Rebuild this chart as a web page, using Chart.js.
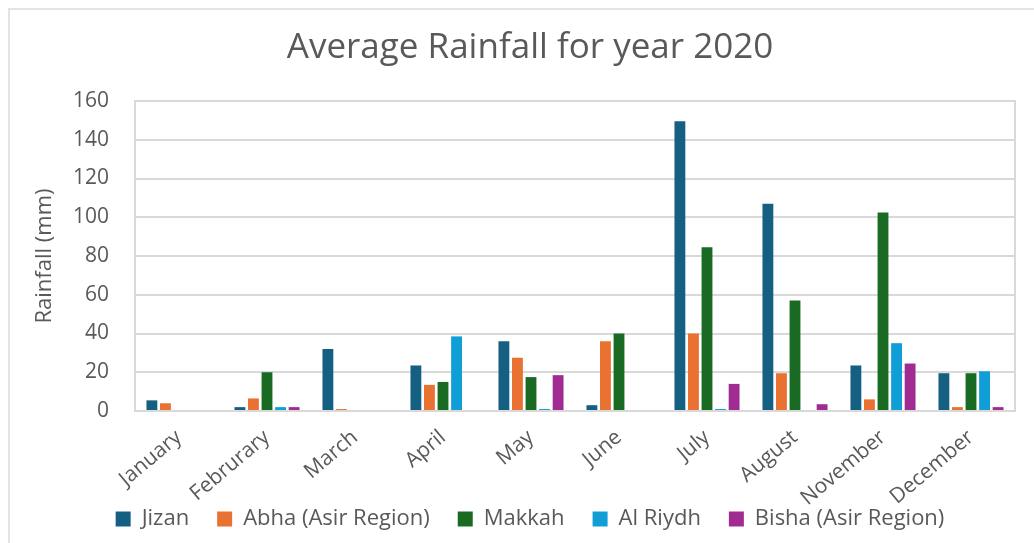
<!DOCTYPE html>
<html>
<head>
<meta charset="utf-8">
<script src="https://cdn.jsdelivr.net/npm/chart.js@4.4.1/dist/chart.umd.min.js"></script>
<style>
  html, body { margin: 0; padding: 0; background: #ffffff; }
  #wrap { position: relative; width: 1034px; height: 543px; overflow: hidden; }
  #frame { position: absolute; left: 8px; top: 8px; width: 1100px; height: 600px;
           border-left: 2px solid #e3e3e3; border-top: 2px solid #e3e3e3; }
  canvas { position: absolute; left: 0; top: 0; }
</style>
</head>
<body>
<div id="wrap">
  <div id="frame"></div>
  <canvas id="c" width="1034" height="543"></canvas>
</div>
<script>
const months = ["January", "Februrary", "March", "April", "May", "June", "July", "August", "November", "December"];
const seriesNames = ["Jizan", "Abha (Asir Region)", "Makkah", "Al Riydh", "Bisha (Asir Region)"];
const jizan  = [5.5, 2, 32, 23.5, 36, 3, 149.5, 107, 23.5, 19.5];
const abha   = [4, 6.5, 1, 13.5, 27.5, 36, 40, 19.5, 6, 2];
const makkah = [0, 20, 0, 15, 17.5, 40, 84.5, 57, 102.5, 19.5];
const riydh  = [0, 2, 0, 38.5, 1, 0, 1, 0, 35, 20.5];
const bisha  = [0, 2, 0, 0, 18.5, 0, 14, 3.5, 24.5, 2];
const yTicks = [0, 20, 40, 60, 80, 100, 120, 140, 160];
const colors = ["#156082", "#E97132", "#196B24", "#0F9ED5", "#A02B93"];

const allSeries = [jizan, abha, makkah, riydh, bisha];
const textGray = "#595959";
const fontFam = "'Open Sans', 'Liberation Sans', sans-serif";

const plotBorder = {
  id: "plotBorder",
  afterDraw(chart) {
    const a = chart.chartArea, ctx = chart.ctx;
    ctx.save();
    ctx.strokeStyle = "#d9d9d9";
    ctx.lineWidth = 2;
    ctx.strokeRect(a.left, a.top, a.right - a.left, a.bottom - a.top);
    ctx.restore();
  }
};

new Chart(document.getElementById("c"), {
  type: "bar",
  data: {
    labels: months,
    datasets: allSeries.map((d, i) => ({
      label: seriesNames[i],
      data: d,
      backgroundColor: colors[i],
      borderWidth: 0,
      categoryPercentage: 0.77,
      barPercentage: 0.8,
      yAxisID: "y"
    }))
  },
  options: {
    responsive: false,
    animation: false,
    layout: { padding: { left: 10, right: -16, top: 0, bottom: 3 } },
    plugins: {
      tooltip: { enabled: false },
      title: {
        display: true,
        text: "Average Rainfall for year 2020",
        color: textGray,
        font: { family: fontFam, size: 35, weight: "normal" },
        padding: { top: 27, bottom: 32 }
      },
      legend: {
        position: "bottom",
        labels: {
          color: textGray,
          font: { family: fontFam, size: 22 },
          boxWidth: 15,
          boxHeight: 15,
          padding: 28
        }
      }
    },
    scales: {
      x: {
        grid: { display: false, drawTicks: false },
        border: { display: true, color: "#d9d9d9", width: 2 },
        ticks: {
          color: textGray,
          font: { family: fontFam, size: 21 },
          minRotation: 40,
          maxRotation: 40,
          padding: 14,
          autoSkip: false
        },
        afterFit(s) { s.height = 69; },
        afterUpdate(s) { s._computeLabelArea = () => undefined; }
      },
      y: {
        min: 0,
        max: 160,
        afterBuildTicks(s) { s.ticks = yTicks.map(v => ({ value: v })); },
        grid: { color: "#d9d9d9", lineWidth: 2, drawTicks: false },
        border: { display: true, color: "#d9d9d9", width: 2 },
        ticks: {
          color: textGray,
          font: { family: fontFam, size: 21 },
          padding: 26
        },
        title: {
          display: true,
          text: "Rainfall (mm)",
          color: textGray,
          font: { family: fontFam, size: 22 },
          padding: { top: 22, bottom: 0 }
        },
        afterFit(s) { s.width = 125; }
      },
      yRight: {
        position: "right",
        min: 0,
        max: 160,
        grid: { display: false, drawTicks: false },
        border: { display: false },
        ticks: { display: false },
        afterFit(s) { s.width = 35; }
      }
    }
  },
  plugins: [plotBorder]
});
</script>
</body>
</html>
